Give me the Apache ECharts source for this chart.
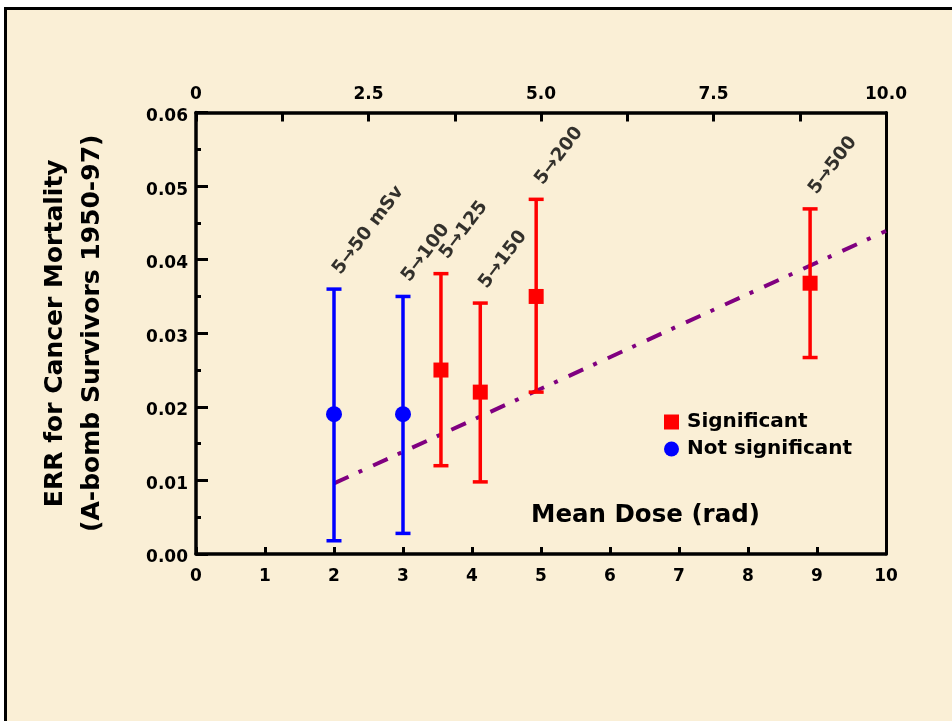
<!DOCTYPE html>
<html>
<head>
<meta charset="utf-8">
<script src="https://cdn.jsdelivr.net/npm/echarts@6/dist/echarts.min.js"></script>
<style>
html,body{margin:0;padding:0;background:#ffffff;}
#chart{width:952px;height:721px;}
</style>
</head>
<body>
<div id="chart"></div>
<script>
// ---- data ----
const doseNS = [2.0, 3.0];
const errNS = [0.019, 0.019];
const lowNS = [0.0018, 0.0028];
const highNS = [0.036, 0.035];

const doseS = [3.55, 4.12, 4.93, 8.9];
const errS = [0.025, 0.022, 0.035, 0.0368];
const lowS = [0.012, 0.0098, 0.022, 0.0267];
const highS = [0.0381, 0.0341, 0.0482, 0.0469];

const annotDose = [2.0, 3.0, 3.55, 4.12, 4.93, 8.9];
const annotTop = [0.036, 0.035, 0.0381, 0.0341, 0.0482, 0.0469];
const annotText = ['5→50 mSv', '5→100', '5→125', '5→150', '5→200', '5→500'];

const fitDose = [2, 10];
const fitErr = [0.0096, 0.0439];

const topTickLabels = ['0', '2.5', '5.0', '7.5', '10.0'];

const FONT = 'DejaVu Sans';
const BG = '#FAEFD6';

const chart = echarts.init(document.getElementById('chart'), null, {renderer: 'canvas'});

function errorBar(color) {
  return function (params, api) {
    const x = api.value(0);
    const lo = api.coord([x, api.value(1)]);
    const hi = api.coord([x, api.value(2)]);
    const hw = 7.5;
    const st = {stroke: color, lineWidth: 3.5};
    return {
      type: 'group',
      children: [
        {type: 'line', shape: {x1: lo[0], y1: lo[1], x2: hi[0], y2: hi[1]}, style: st},
        {type: 'line', shape: {x1: hi[0] - hw, y1: hi[1], x2: hi[0] + hw, y2: hi[1]}, style: st},
        {type: 'line', shape: {x1: lo[0] - hw, y1: lo[1], x2: lo[0] + hw, y2: lo[1]}, style: st}
      ]
    };
  };
}

const tickLabel = {color: '#000', fontFamily: FONT, fontWeight: 'bold', fontSize: 17};

const option = {
  backgroundColor: '#ffffff',
  animation: false,
  graphic: [
    {type: 'rect', z: -100, shape: {x: 5.5, y: 8.5, width: 1000, height: 800},
     style: {fill: BG, stroke: '#000', lineWidth: 3}},
    {type: 'text', x: 531, y: 516, z: 10,
     style: {text: 'Mean Dose (rad)', fill: '#000', font: 'bold 24.5px "DejaVu Sans"', textVerticalAlign: 'middle'}}
  ],
  grid: {left: 196, right: 66, top: 112.5, bottom: 167, containLabel: false},
  legend: {
    orient: 'vertical', left: 664, top: 412, padding: 0, itemGap: 7,
    itemWidth: 15, itemHeight: 15,
    textStyle: {color: '#000', fontFamily: FONT, fontWeight: 'bold', fontSize: 20, padding: [0, 0, 0, 3]},
    data: [{name: 'Significant', icon: 'rect'}, {name: 'Not significant', icon: 'circle'}]
  },
  xAxis: [
    {type: 'value', position: 'bottom', min: 0, max: 10, interval: 1,
     axisLine: {show: true, onZero: false, lineStyle: {color: '#000', width: 3.5}},
     axisTick: {show: true, inside: true, length: 7, lineStyle: {color: '#000', width: 3}},
     splitLine: {show: false},
     axisLabel: Object.assign({margin: 14}, tickLabel)},
    {type: 'value', position: 'top', min: 0, max: 10, interval: 1.25,
     axisLine: {show: true, onZero: false, lineStyle: {color: '#000', width: 3.5}},
     axisTick: {show: true, inside: true, length: 9, lineStyle: {color: '#000', width: 3}},
     splitLine: {show: false},
     axisLabel: Object.assign({margin: 9, showMinLabel: true, showMaxLabel: true,
       formatter: function (v) {
         const i = Math.round(v / 2.5);
         return Math.abs(v - i * 2.5) < 1e-6 ? topTickLabels[i] : '';
       }}, tickLabel)}
  ],
  yAxis: [
    {type: 'value', position: 'left', min: 0, max: 0.06, interval: 0.01,
     name: 'ERR for Cancer Mortality\n(A-bomb Survivors 1950-97)',
     nameLocation: 'middle', nameRotate: 90, nameGap: 85,
     nameTextStyle: {color: '#000', fontFamily: FONT, fontWeight: 'bold', fontSize: 25, lineHeight: 37},
     axisLine: {show: true, onZero: false, lineStyle: {color: '#000', width: 3.5}},
     axisTick: {show: true, inside: true, length: 12, lineStyle: {color: '#000', width: 3}},
     minorTick: {show: true, splitNumber: 2, length: 5, lineStyle: {color: '#000', width: 3}},
     splitLine: {show: false},
     axisLabel: Object.assign({margin: 8,
       formatter: function (v) { return '{a|' + v.toFixed(2) + '}'; },
       rich: {a: {color: '#000', fontFamily: FONT, fontWeight: 'bold', fontSize: 17, padding: [8, 0, 0, 0]}}
     }, tickLabel)},
    {type: 'value', position: 'right', min: 0, max: 0.06,
     axisLine: {show: true, onZero: false, lineStyle: {color: '#000', width: 3}},
     axisTick: {show: false}, axisLabel: {show: false}, splitLine: {show: false}}
  ],
  series: [
    {name: 'fit', type: 'line', data: fitDose.map((d, i) => [d, fitErr[i]]),
     showSymbol: false, symbol: 'none', z: 1,
     lineStyle: {color: '#800080', width: 4, type: [16, 11, 4, 12]}},
    {name: 'errNS', type: 'custom', renderItem: errorBar('#0000FF'), z: 3,
     encode: {x: 0, y: [1, 2]},
     data: doseNS.map((d, i) => [d, lowNS[i], highNS[i]])},
    {name: 'errS', type: 'custom', renderItem: errorBar('#FF0000'), z: 3,
     encode: {x: 0, y: [1, 2]},
     data: doseS.map((d, i) => [d, lowS[i], highS[i]])},
    {name: 'Significant', type: 'scatter', symbol: 'rect', symbolSize: 15, z: 5,
     itemStyle: {color: '#FF0000', opacity: 1},
     data: doseS.map((d, i) => [d, errS[i]])},
    {name: 'Not significant', type: 'scatter', symbol: 'circle', symbolSize: 16, z: 5,
     itemStyle: {color: '#0000FF', opacity: 1},
     data: doseNS.map((d, i) => [d, errNS[i]])},
    {name: 'annot', type: 'scatter', symbolSize: 0, z: 6, silent: true,
     data: annotDose.map((d, i) => [d, annotTop[i], annotText[i]]),
     label: {show: true, position: 'top', distance: 5, offset: [11, -5], rotate: 53,
       align: 'left', verticalAlign: 'middle',
       formatter: function (p) { return p.value[2]; },
       color: '#000', fontFamily: FONT, fontWeight: 'bold', fontSize: 18.5}}
  ]
};
chart.setOption(option);
</script>
</body>
</html>
